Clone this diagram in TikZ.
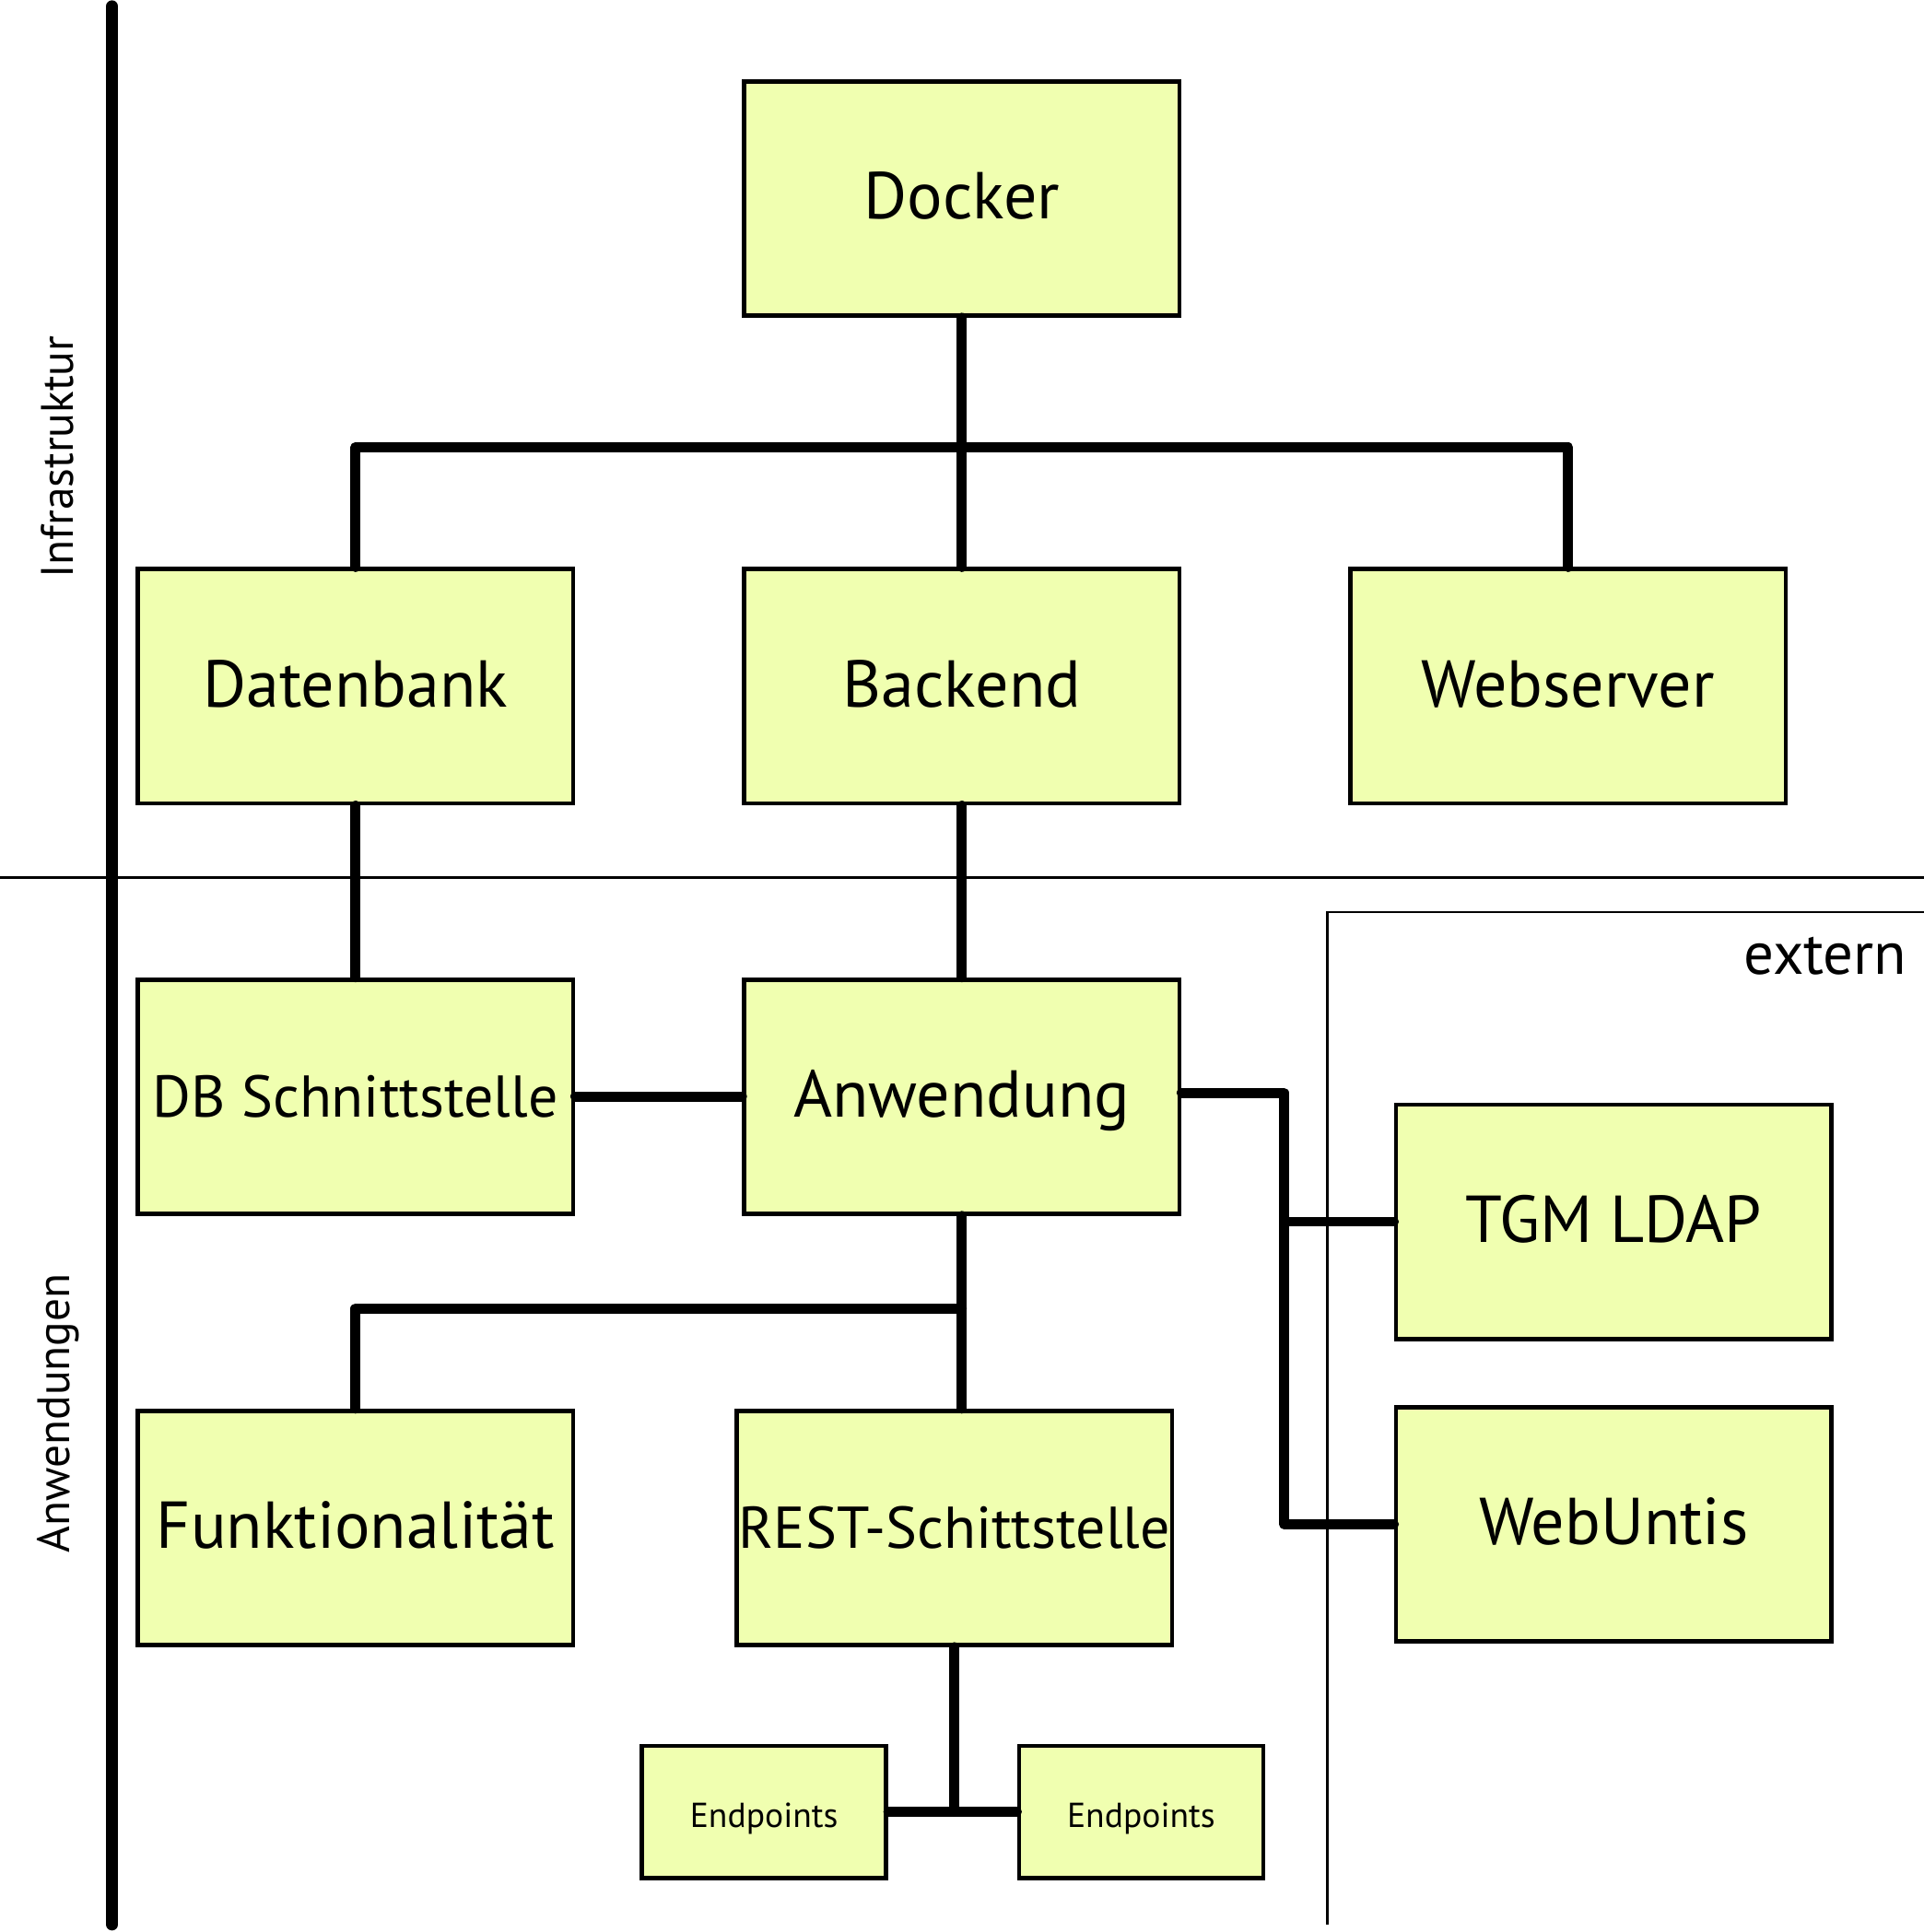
\documentclass[tikz,border=0pt]{standalone}
\usepackage{fontspec}
\setmainfont{PT Sans}
\usetikzlibrary{positioning}

\definecolor{boxfill}{RGB}{240,255,176}

\begin{document}
\begin{tikzpicture}[x=0.01cm,y=-0.01cm,
    box/.style={draw,fill=boxfill,line width=1pt,minimum width=3.53cm,minimum height=1.90cm,inner sep=0pt,
      text height=0.95em,text depth=0pt,font=\fontsize{15.3}{18}\selectfont},
    long text/.style={font=\fontsize{13.6}{16}\selectfont},
    small box/.style={box,minimum width=1.98cm,minimum height=1.07cm,text height=0.7em,font=\fontsize{8}{10}\selectfont},
    link/.style={line width=2.3pt,line cap=round,line join=round},
    side label/.style={rotate=90,font=\fontsize{10.5}{13}\selectfont}]
    \useasboundingbox (0,0) rectangle (1561,1568);

    % trennlinien
    \draw[line width=2.7pt,line cap=round] (91,5) -- (91,1562);
    \draw[line width=0.65pt] (0,712) -- (1561,712);
    \draw[line width=0.5pt] (1561,740) -- (1077,740) -- (1077,1562);
    \node[side label] (infra) at (47,371) {Infrastruktur};
    \node[side label] (anw) at (47,1147) {Anwendungen};
    \node[anchor=east,inner sep=0pt,font=\fontsize{13.8}{16}\selectfont] (extern) at (1548,776) {extern};

    % infrastruktur
    \node[box] (docker) at (780.5,161) {Docker};
    \node[box] (backend) at (780.5,557) {Backend};
    \node[box] (datenbank) at (288.5,557) {Datenbank};
    \node[box] (webserver) at (1272.5,557) {Webserver};

    % anwendungen
    \node[box,long text] (dbschnitt) at (288.5,890) {DB Schnittstelle};
    \node[box] (anwendung) at (780.5,890) {Anwendung};
    \node[box] (funktion) at (288.5,1240) {Funktionalität};
    \node[box,long text] (rest) at (774.5,1240) {REST-Schittstelle};
    \node[small box] (ep1) at (620,1470.5) {Endpoints};
    \node[small box] (ep2) at (926,1470.5) {Endpoints};

    % extern
    \node[box] (ldap) at (1309.5,991.5) {TGM LDAP};
    \node[box] (webuntis) at (1309.5,1237) {WebUntis};

    \coordinate (j1) at (780.5,363);
    \coordinate (j2) at (780.5,1062);
    \coordinate (j3) at (1042,887);

    \draw[link] (docker) -- (backend);
    \draw[link] (datenbank.north) |- (j1) -| (webserver.north);
    \draw[link] (datenbank) -- (dbschnitt);
    \draw[link] (backend) -- (anwendung);
    \draw[link] (dbschnitt) -- (anwendung);
    \draw[link] (anwendung.south) -- (anwendung.south |- rest.north);
    \draw[link] (funktion.north) |- (j2);
    \draw[link] (anwendung.east |- j3) -- (j3) |- (webuntis.west);
    \draw[link] (j3 |- ldap.west) -- (ldap.west);
    \draw[link] (rest.south) -- (rest.south |- ep1.east);
    \draw[link] (ep1.east) -- (ep2.west);
\end{tikzpicture}
\end{document}
